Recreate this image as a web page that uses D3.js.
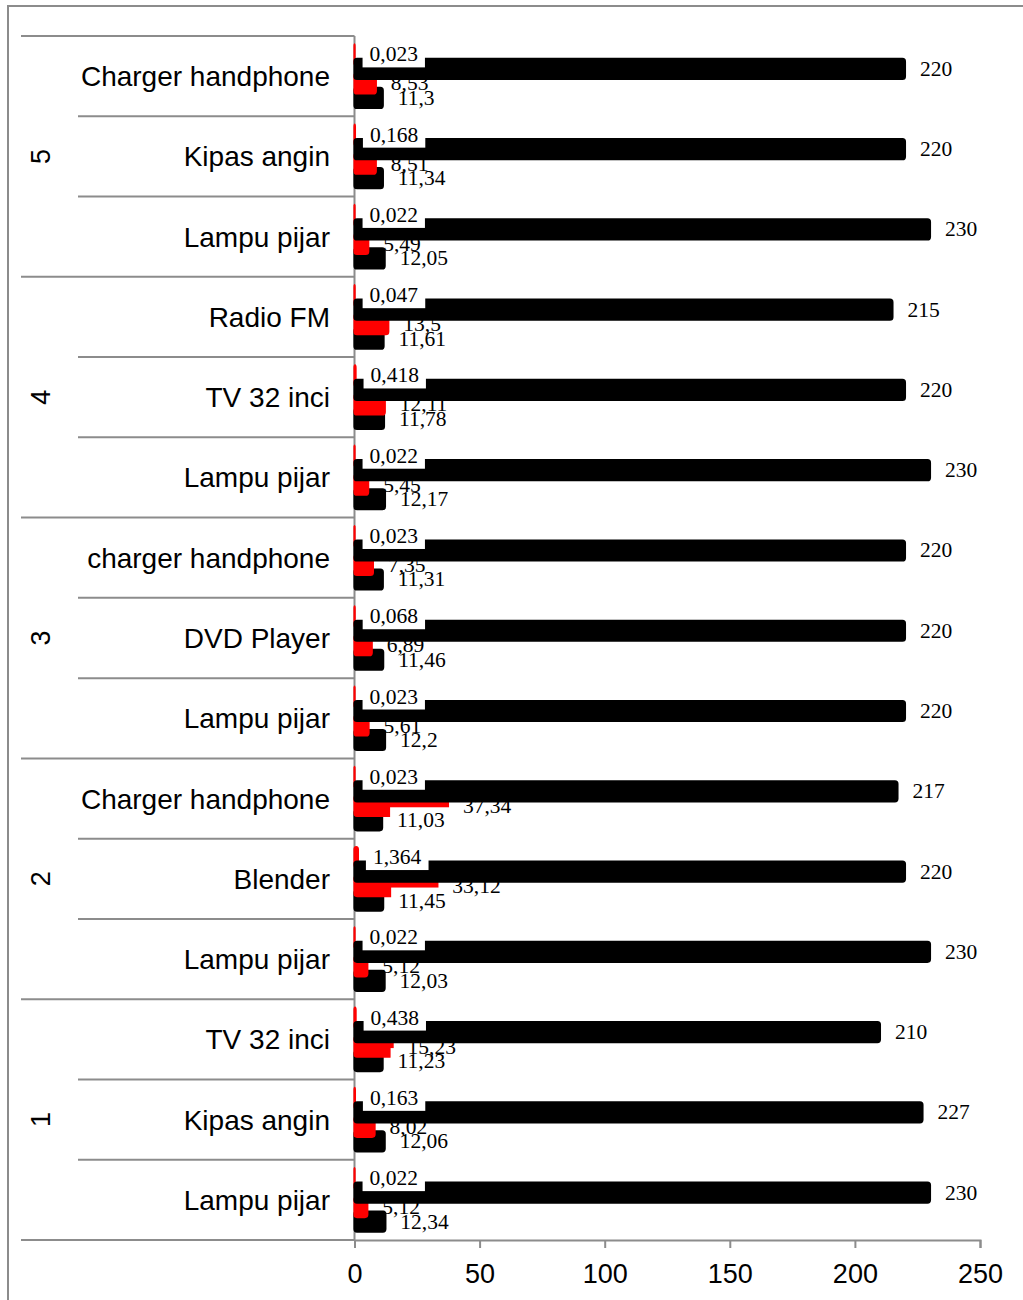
<!DOCTYPE html>
<html>
<head>
<meta charset="utf-8">
<script src="https://cdn.jsdelivr.net/npm/d3@7"></script>
<style>
  body { margin: 0; background: #fff; }
  .sans { font-family: "Liberation Sans", Arial, sans-serif; }
  .serif { font-family: "Liberation Serif", "Times New Roman", serif; }
</style>
</head>
<body>
<svg id="chart" width="1023" height="1300"></svg>
<script>
// categories, top to bottom as drawn
var groups = ["5", "4", "3", "2", "1"];
var items = ["Charger handphone", "Kipas angin", "Lampu pijar",
             "Radio FM", "TV 32 inci", "Lampu pijar",
             "charger handphone", "DVD Player", "Lampu pijar",
             "Charger handphone", "Blender", "Lampu pijar",
             "TV 32 inci", "Kipas angin", "Lampu pijar"];

// four series per item (top bar to bottom bar)
var seriesA = [0.023, 0.168, 0.022, 0.047, 0.418, 0.022, 0.023, 0.068, 0.023, 0.023, 1.364, 0.022, 0.438, 0.163, 0.022];
var seriesB = [220, 220, 230, 215, 220, 230, 220, 220, 220, 217, 220, 230, 210, 227, 230];
var seriesC = [8.53, 8.51, 5.49, 13.5, 12.11, 5.45, 7.35, 6.89, 5.61, 37.34, 33.12, 5.12, 15.23, 8.02, 5.12];
var seriesD = [11.3, 11.34, 12.05, 11.61, 11.78, 12.17, 11.31, 11.46, 12.2, 11.03, 11.45, 12.03, 11.23, 12.06, 12.34];

var xTicks = [0, 50, 100, 150, 200, 250];

var svg = d3.select("#chart");
var grey = "#8c8c8c";

// outer chart border
svg.append("rect")
  .attr("x", 8).attr("y", 6)
  .attr("width", 1040).attr("height", 1320)
  .attr("fill", "none").attr("stroke", grey).attr("stroke-width", 2);

var x = d3.scaleLinear().domain([0, 250]).range([354.5, 980]);
var y = d3.scaleBand().domain(d3.range(items.length)).range([36, 1240]);
var bw = y.bandwidth();
var s = d3.scalePoint().domain(["A", "B", "C", "D"]).range([bw * 0.229, bw * 0.771]);
var th = bw * 0.249; // bar thickness (bars overlap a bit)

function fmt(v) { return String(v).replace(".", ","); }

function drawBars(key, vals, color) {
  svg.append("g").selectAll("rect")
    .data(vals)
    .enter().append("rect")
    .attr("x", x(0))
    .attr("y", function(d, i) { return y(i) + s(key) - th / 2; })
    .attr("width", function(d) { return x(d) - x(0); })
    .attr("height", th)
    .attr("rx", 2.5)
    .attr("fill", color)
    .attr("stroke", color)
    .attr("stroke-width", 2.2);
}

function drawLabels(key, vals, boxed) {
  var g = svg.append("g");
  vals.forEach(function(d, i) {
    var t = g.append("text")
      .attr("class", "serif")
      .attr("x", x(d) + 15)
      .attr("y", y(i) + s(key) + 7)
      .attr("font-size", 21.5)
      .attr("fill", "#000")
      .text(fmt(d));
    if (boxed) {
      var b = t.node().getBBox();
      g.insert("rect", function() { return t.node(); })
        .attr("x", b.x - 7).attr("y", b.y - 1)
        .attr("width", b.width + 14).attr("height", b.height + 2)
        .attr("fill", "#fff");
    }
  });
}

// category separators
var bounds = d3.range(items.length + 1).map(function(i) { return i < items.length ? y(i) : y(items.length - 1) + bw; });
svg.append("g").selectAll("line")
  .data(bounds)
  .enter().append("line")
  .attr("x1", function(d, i) { return i % 3 === 0 ? 21 : 78; })
  .attr("x2", x(0))
  .attr("y1", function(d) { return d; })
  .attr("y2", function(d) { return d; })
  .attr("stroke", grey).attr("stroke-width", 2);

svg.append("line")
  .attr("x1", x(0)).attr("x2", x(0))
  .attr("y1", 36).attr("y2", 1240)
  .attr("stroke", grey).attr("stroke-width", 2);

// item labels
svg.append("g").selectAll("text")
  .data(items)
  .enter().append("text")
  .attr("class", "sans")
  .attr("x", 330)
  .attr("y", function(d, i) { return y(i) + bw / 2 + 10; })
  .attr("text-anchor", "end")
  .attr("font-size", 28)
  .text(function(d) { return d; });

// group labels (rotated)
svg.append("g").selectAll("text")
  .data(groups)
  .enter().append("text")
  .attr("class", "sans")
  .attr("transform", function(d, i) {
    var cy = y(i * 3) + bw * 1.5;
    return "translate(50," + cy + ") rotate(-90)";
  })
  .attr("text-anchor", "middle")
  .attr("font-size", 27)
  .text(function(d) { return d; });

// bars and data labels, layered like the original
drawBars("D", seriesD, "#000");
drawBars("C", seriesC, "#ff0000");
drawLabels("D", seriesD, true);
drawLabels("C", seriesC, false);
drawBars("A", seriesA, "#ff0000");
drawBars("B", seriesB, "#000");
drawLabels("A", seriesA, true);
drawLabels("B", seriesB, false);

// value axis
var ax = svg.append("g")
  .attr("transform", "translate(0,1240)")
  .call(d3.axisBottom(x).tickValues(xTicks).tickSize(8).tickSizeOuter(8).tickPadding(16));
ax.selectAll("path, line").attr("stroke", grey).attr("stroke-width", 2);
ax.selectAll("text")
  .attr("class", "sans")
  .attr("font-size", 27)
  .attr("fill", "#000");
</script>
</body>
</html>
